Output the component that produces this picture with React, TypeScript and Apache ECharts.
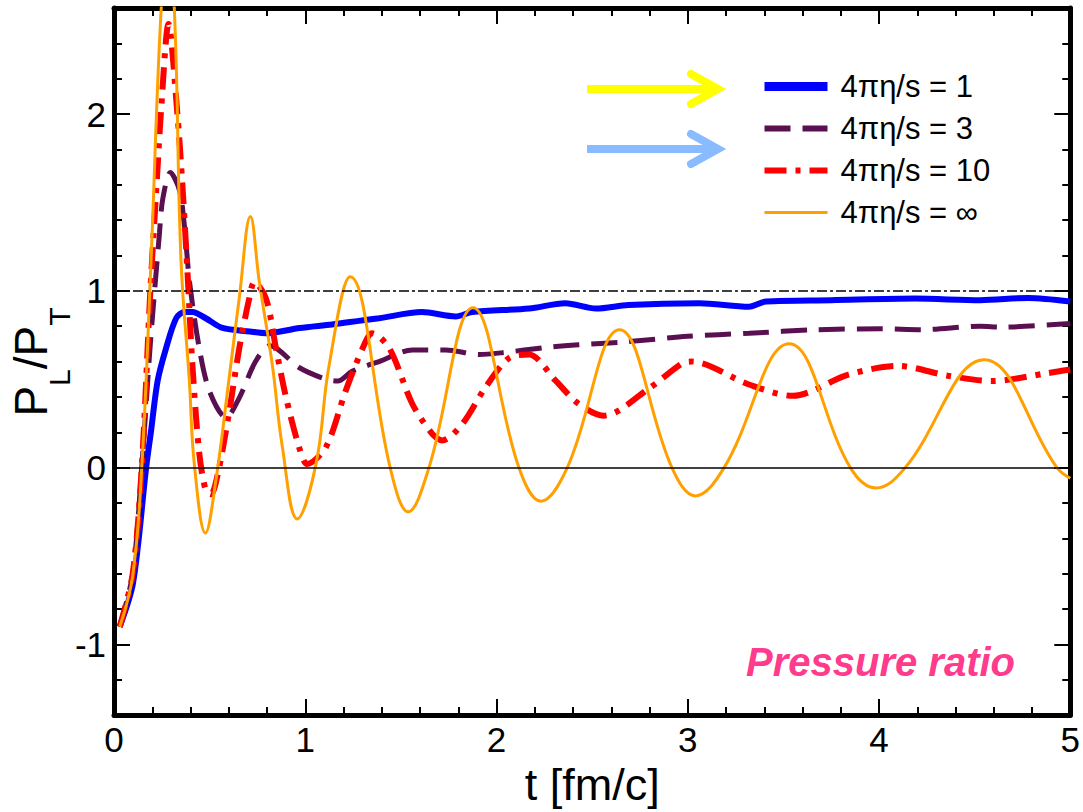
import React, { useEffect, useRef } from 'react';
import * as echarts from 'echarts';

// ---- data ----
const seriesNames = ['4πη/s = 1', '4πη/s = 3', '4πη/s = 10', '4πη/s = ∞'];

const blueT = [0.03, 0.10, 0.168, 0.194, 0.228, 0.272, 0.325, 0.368, 0.41, 0.48, 0.567, 0.71, 0.795, 0.97, 1.14, 1.28, 1.386, 1.61, 1.787, 1.873, 2.17, 2.36, 2.52, 2.69, 3.06, 3.32, 3.41, 3.75, 4.19, 4.53, 4.78, 5.0];
const blueV = [-0.90, -0.65, 0.0, 0.21, 0.49, 0.675, 0.845, 0.88, 0.88, 0.845, 0.79, 0.77, 0.76, 0.79, 0.81, 0.83, 0.845, 0.88, 0.855, 0.88, 0.90, 0.93, 0.90, 0.92, 0.93, 0.91, 0.94, 0.947, 0.956, 0.947, 0.96, 0.94];

const purpleT = [0.03, 0.098, 0.145, 0.19, 0.238, 0.255, 0.295, 0.342, 0.368, 0.395, 0.446, 0.50, 0.586, 0.655, 0.74, 0.815, 0.97, 1.108, 1.17, 1.245, 1.386, 1.56, 1.735, 1.91, 2.03, 2.26, 2.43, 2.66, 3.0, 3.32, 3.67, 4.01, 4.22, 4.53, 4.64, 5.0];
const purpleV = [-0.90, -0.60, 0.0, 0.70, 1.33, 1.52, 1.67, 1.57, 1.37, 1.05, 0.675, 0.43, 0.283, 0.395, 0.60, 0.69, 0.565, 0.50, 0.49, 0.545, 0.60, 0.666, 0.666, 0.64, 0.65, 0.68, 0.695, 0.71, 0.743, 0.76, 0.78, 0.785, 0.78, 0.80, 0.795, 0.815];

const redT = [0.03, 0.098, 0.145, 0.19, 0.228, 0.246, 0.285, 0.33, 0.358, 0.385, 0.41, 0.446, 0.48, 0.507, 0.54, 0.60, 0.655, 0.707, 0.734, 0.795, 0.847, 0.90, 0.968, 1.01, 1.108, 1.21, 1.30, 1.35, 1.44, 1.56, 1.665, 1.716, 1.82, 1.94, 2.065, 2.17, 2.31, 2.43, 2.56, 2.80, 2.97, 3.02, 3.32, 3.55, 3.84, 4.10, 4.36, 4.59, 4.885, 5.0];
const redV = [-0.90, -0.60, 0.0, 1.0, 1.70, 2.02, 2.51, 2.02, 1.59, 1.09, 0.58, 0.08, -0.13, -0.15, -0.05, 0.30, 0.675, 0.956, 1.05, 0.956, 0.675, 0.395, 0.115, 0.02, 0.115, 0.43, 0.675, 0.76, 0.675, 0.36, 0.19, 0.154, 0.245, 0.45, 0.62, 0.64, 0.49, 0.36, 0.294, 0.45, 0.59, 0.60, 0.47, 0.406, 0.526, 0.575, 0.52, 0.49, 0.535, 0.555];

const orangeT = [0.03, 0.098, 0.145, 0.194, 0.246, 0.281, 0.316, 0.35, 0.394, 0.42, 0.478, 0.533, 0.60, 0.655, 0.713, 0.76, 0.828, 0.88, 0.958, 1.056, 1.125, 1.235, 1.444, 1.538, 1.647, 1.877, 2.117, 2.232, 2.37, 2.643, 2.917, 3.04, 3.19, 3.53, 3.85, 3.985, 4.137, 4.55, 4.93, 5.0];
const orangeV = [-0.90, -0.61, 0.0, 1.18, 2.58, 2.93, 2.58, 1.18, 0.49, 0.02, -0.37, -0.07, 0.49, 0.96, 1.42, 1.05, 0.58, 0.12, -0.29, 0.02, 0.58, 1.08, 0.0, -0.25, 0.0, 0.905, 0.0, -0.19, 0.0, 0.78, 0.0, -0.16, 0.0, 0.70, 0.0, -0.115, 0.0, 0.61, 0.0, -0.06];

const xTicks = [0, 1, 2, 3, 4, 5];
const yMajor = [-1, 0, 1, 2];

const pair = (t: number[], v: number[]) => t.map((x, i) => [x, v[i]]);

const FONT = 'Liberation Sans, Arial, sans-serif';

export default function App() {
  const ref = useRef<HTMLDivElement>(null);
  useEffect(() => {
    const chart = echarts.init(ref.current!, null, { renderer: 'svg' });
    const tickStyle = { color: '#000', width: 2 };
    const frame = { show: true, onZero: false, lineStyle: { color: '#000', width: 5 } };
    const xBase = {
      type: 'value', min: xTicks[0], max: xTicks[xTicks.length - 1], interval: 1,
      axisLine: frame,
      axisTick: { show: true, inside: true, length: 16, lineStyle: tickStyle },
      minorTick: { show: true, splitNumber: 5, length: 8, lineStyle: tickStyle },
      splitLine: { show: false },
    };
    const yMinor = {
      type: 'value', min: -1.4, max: 2.6, interval: 0.2,
      axisLine: frame,
      axisTick: { show: true, inside: true, length: 8, lineStyle: tickStyle },
      axisLabel: { show: false },
      splitLine: { show: false },
    };
    const yMaj = {
      type: 'value', min: -1.4, max: 2.6,
      axisLine: { show: false, onZero: false },
      axisTick: { show: true, inside: true, length: 16, lineStyle: tickStyle, customValues: yMajor },
      splitLine: { show: false },
    };
    const option: any = {
      animation: false,
      backgroundColor: '#fff',
      grid: { left: 114, right: 11, top: 8, bottom: 94, containLabel: false },
      xAxis: [
        {
          ...xBase, position: 'bottom',
          axisLabel: { fontSize: 35, color: '#000', margin: 7, fontFamily: FONT },
          name: 't [fm/c]', nameLocation: 'middle', nameGap: 46,
          nameTextStyle: { fontSize: 45, color: '#000', fontFamily: FONT },
        },
        { ...xBase, position: 'top', axisLabel: { show: false } },
      ],
      yAxis: [
        { ...yMinor, position: 'left' },
        { ...yMaj, position: 'left', axisLabel: { show: true, customValues: yMajor, fontSize: 35, color: '#000', margin: 8, fontFamily: FONT } },
        { ...yMinor, position: 'right' },
        { ...yMaj, position: 'right', axisLabel: { show: false } },
      ],
      legend: {
        orient: 'vertical', left: 760, top: 71, padding: 0,
        itemWidth: 63, itemHeight: 14, itemGap: 11,
        textStyle: { fontSize: 31, color: '#000', fontFamily: FONT, lineHeight: 30, padding: [0, 0, 0, 8] },
        itemStyle: { opacity: 0, borderWidth: 0 },
        lineStyle: { width: 'inherit' },
        data: [
          { name: seriesNames[0], lineStyle: { width: 9 } },
          { name: seriesNames[1], lineStyle: { width: 6 } },
          { name: seriesNames[2], lineStyle: { width: 6 } },
          { name: seriesNames[3], lineStyle: { width: 3 } },
        ],
      },
      series: [
        {
          name: seriesNames[0], type: 'line', data: pair(blueT, blueV), symbol: 'none', smooth: 0.3,
          lineStyle: { color: '#0000ff', width: 6 }, itemStyle: { color: '#0000ff' },
          markLine: {
            silent: true, symbol: ['none', 'none'], label: { show: false },
            data: [
              { yAxis: 1, lineStyle: { type: [10, 3, 3, 3], width: 1.5, color: '#000' } },
              { yAxis: 0, lineStyle: { type: 'solid', width: 1.5, color: '#000' } },
            ],
          },
        },
        {
          name: seriesNames[1], type: 'line', data: pair(purpleT, purpleV), symbol: 'none', smooth: 0.3,
          lineStyle: { color: '#5a1050', width: 5, type: [26, 12] }, itemStyle: { color: '#5a1050' },
        },
        {
          name: seriesNames[2], type: 'line', data: pair(redT, redV), symbol: 'none', smooth: 0.3,
          lineStyle: { color: '#ff0000', width: 6, type: [22, 9, 5, 9] }, itemStyle: { color: '#ff0000' },
        },
        {
          name: seriesNames[3], type: 'line', data: pair(orangeT, orangeV), symbol: 'none', smooth: 0.4,
          lineStyle: { color: '#ffa000', width: 3 }, itemStyle: { color: '#ffa000' },
        },
      ],
      graphic: [
        {
          type: 'text', x: 59, y: 362, rotation: Math.PI / 2,
          style: {
            text: '{m|P}{s|L}{m|/P}{s|T}', align: 'center', verticalAlign: 'middle', fill: '#000',
            rich: {
              m: { fontSize: 46, lineHeight: 46, verticalAlign: 'top', fontFamily: FONT, fill: '#000' },
              s: { fontSize: 30, lineHeight: 103, fontFamily: FONT, fill: '#000' },
            },
          },
        },
        { type: 'line', shape: { x1: 587, y1: 89, x2: 714, y2: 89 }, style: { stroke: '#ffff00', lineWidth: 8 } },
        { type: 'polyline', shape: { points: [[691, 74], [718, 89], [691, 104]] }, style: { stroke: '#ffff00', lineWidth: 8, lineCap: 'round', fill: null } },
        { type: 'line', shape: { x1: 587, y1: 149, x2: 714, y2: 149 }, style: { stroke: '#88bbff', lineWidth: 8 } },
        { type: 'polyline', shape: { points: [[691, 134], [718, 149], [691, 164]] }, style: { stroke: '#88bbff', lineWidth: 8, lineCap: 'round', fill: null } },
        {
          type: 'text', x: 746, y: 662,
          style: { text: 'Pressure ratio', fill: '#ff3b8d', fontSize: 40, fontWeight: 'bold', fontStyle: 'italic', fontFamily: FONT, verticalAlign: 'middle' },
        },
      ],
    };
    chart.setOption(option);
    return () => chart.dispose();
  }, []);
  return <div ref={ref} style={{ position: 'fixed', left: 0, top: 0, width: 1083, height: 812, background: '#fff' }} />;
}
